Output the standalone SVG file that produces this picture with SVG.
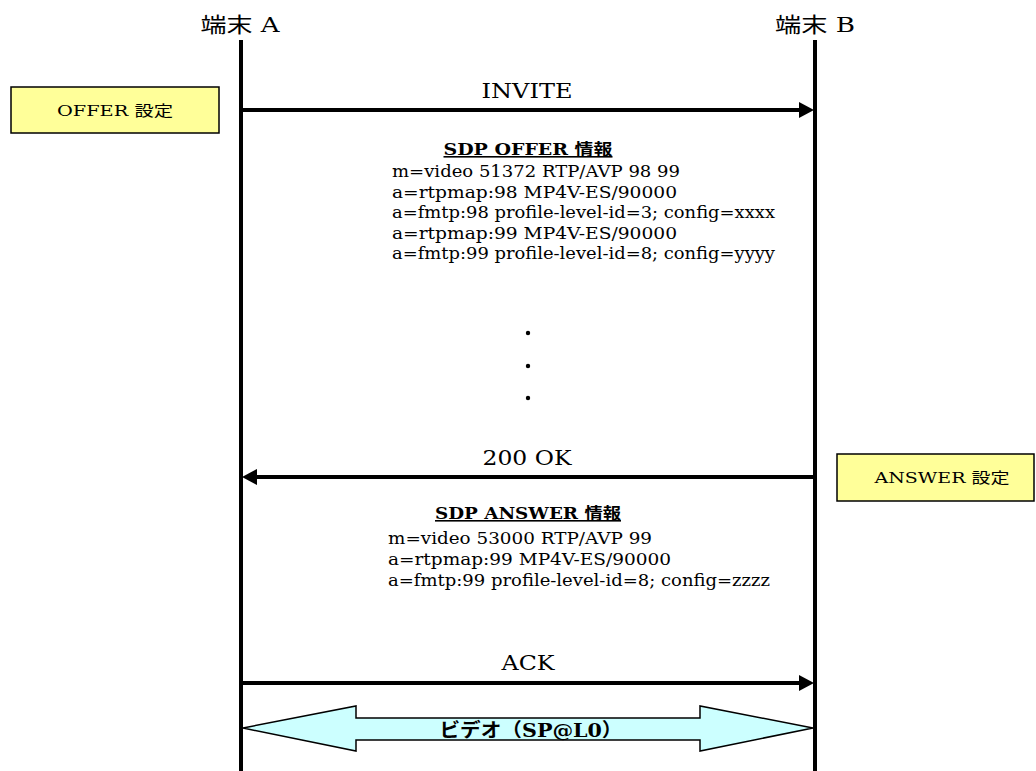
<svg xmlns="http://www.w3.org/2000/svg" width="1036" height="771" viewBox="0 0 1036 771">
<style>
.t{font-family:"DejaVu Serif","Liberation Serif","Noto Sans CJK JP",serif;fill:#000}
.title{font-size:21px;text-anchor:middle}
.msg{font-size:20px;text-anchor:middle}
.sdp{font-size:16px}
.hdr{font-size:16px;font-weight:bold;text-anchor:middle;text-decoration:underline}
.box{fill:#FFFF99;stroke:#000;stroke-width:1.5}
.boxt{font-size:15px;text-anchor:middle}
.life{stroke:#000;stroke-width:4;fill:none}
.arr{stroke:#000;stroke-width:4;fill:none}
.head{fill:#000}
.media{fill:#CCFFFF;stroke:#000;stroke-width:1.5;stroke-linejoin:miter}
</style>
<rect width="1036" height="771" fill="#fff"/>
<g id="terminalA">
<text class="t title" x="240" y="32" textLength="79" lengthAdjust="spacingAndGlyphs">端末 A</text>
<line class="life" x1="241" y1="40" x2="241" y2="771"/>
</g>
<g id="terminalB">
<text class="t title" x="815" y="32" textLength="80" lengthAdjust="spacingAndGlyphs">端末 B</text>
<line class="life" x1="815" y1="40" x2="815" y2="771"/>
</g>
<g id="offerBox">
<rect class="box" x="11" y="87" width="208" height="46"/>
<text class="t boxt" x="115" y="116" textLength="116" lengthAdjust="spacingAndGlyphs">OFFER 設定</text>
</g>
<g id="answerBox">
<rect class="box" x="837" y="454" width="197" height="47"/>
<text class="t boxt" x="942" y="483" textLength="135" lengthAdjust="spacingAndGlyphs">ANSWER 設定</text>
</g>
<g id="sdpOffer">
<text class="t hdr" x="528" y="155" textLength="169" lengthAdjust="spacingAndGlyphs">SDP OFFER 情報</text>
<text class="t sdp" x="392" y="177" textLength="288" lengthAdjust="spacingAndGlyphs">m=video 51372 RTP/AVP 98 99</text>
<text class="t sdp" x="392" y="197.5" textLength="285" lengthAdjust="spacingAndGlyphs">a=rtpmap:98 MP4V-ES/90000</text>
<text class="t sdp" x="392" y="218" textLength="383" lengthAdjust="spacingAndGlyphs">a=fmtp:98 profile-level-id=3; config=xxxx</text>
<text class="t sdp" x="392" y="238.5" textLength="285" lengthAdjust="spacingAndGlyphs">a=rtpmap:99 MP4V-ES/90000</text>
<text class="t sdp" x="392" y="259" textLength="383" lengthAdjust="spacingAndGlyphs">a=fmtp:99 profile-level-id=8; config=yyyy</text>
<circle cx="528" cy="333" r="2.2"/>
<circle cx="528" cy="366" r="2.2"/>
<circle cx="528" cy="398" r="2.2"/>
</g>
<g id="sdpAnswer">
<text class="t hdr" x="528" y="519" textLength="186" lengthAdjust="spacingAndGlyphs">SDP ANSWER 情報</text>
<text class="t sdp" x="388" y="544" textLength="264" lengthAdjust="spacingAndGlyphs">m=video 53000 RTP/AVP 99</text>
<text class="t sdp" x="388" y="565" textLength="283" lengthAdjust="spacingAndGlyphs">a=rtpmap:99 MP4V-ES/90000</text>
<text class="t sdp" x="388" y="586" textLength="382" lengthAdjust="spacingAndGlyphs">a=fmtp:99 profile-level-id=8; config=zzzz</text>
</g>
<g id="connectors">
<g id="invite">
<line class="arr" x1="243" y1="110" x2="801" y2="110"/>
<polygon class="head" points="814,110 799,102 799,118"/>
<text class="t msg" x="527" y="98" textLength="91" lengthAdjust="spacingAndGlyphs">INVITE</text>
</g>
<g id="ok200">
<line class="arr" x1="813" y1="477" x2="255" y2="477"/>
<polygon class="head" points="242,477 257,469 257,485"/>
<text class="t msg" x="527" y="465" textLength="89" lengthAdjust="spacingAndGlyphs">200 OK</text>
</g>
<g id="ack">
<line class="arr" x1="243" y1="683" x2="801" y2="683"/>
<polygon class="head" points="814,683 799,675 799,691"/>
<text class="t msg" x="528" y="670" textLength="53" lengthAdjust="spacingAndGlyphs">ACK</text>
</g>
<g id="media">
<polygon class="media" points="243,728 356,706 356,718 700,718 700,706 813,728 700,751 700,740 356,740 356,751"/>
<text class="t" x="531" y="737" font-size="19" font-weight="bold" text-anchor="middle" textLength="183" lengthAdjust="spacingAndGlyphs">ビデオ（SP@L0）</text>
</g>
</g>
</svg>
